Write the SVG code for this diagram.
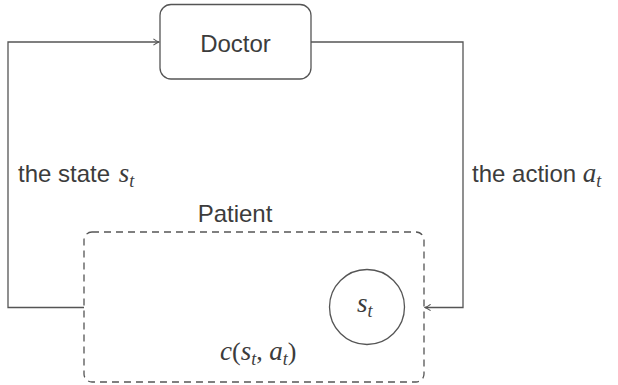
<svg xmlns="http://www.w3.org/2000/svg" width="618" height="385" viewBox="0 0 618 385">
  <style>
    .lbl { font-family: "Liberation Sans", Arial, sans-serif; font-size: 24px; fill: #3c3c3c; }
    .m { font-family: "Liberation Serif", "Times New Roman", serif; font-style: italic; font-size: 27px; }
    .r { font-family: "Liberation Serif", "Times New Roman", serif; font-style: normal; font-size: 26px; }
    .sub { font-size: 18px; }
    .edge { fill: none; stroke: #555; stroke-width: 1.3; }
  </style>
  <defs>
    <marker id="arr" viewBox="0 0 10 10" refX="9" refY="5" markerWidth="8" markerHeight="8" markerUnits="userSpaceOnUse" orient="auto">
      <path d="M2,1 Q6,4 9,5 Q6,6 2,9" fill="none" stroke="#555" stroke-width="1.3"/>
    </marker>
  </defs>
  <rect width="618" height="385" fill="#fff"/>

  <g id="connectors">
    <path class="edge" d="M84,307.5 H8 V42 H159" marker-end="url(#arr)"/>
    <path class="edge" d="M311,42 H463 V307.5 H425" marker-end="url(#arr)"/>
  </g>

  <g id="doctor">
    <rect x="160" y="4.5" width="151" height="74.5" rx="11" fill="#fff" stroke="#555" stroke-width="1.3"/>
    <text class="lbl" x="235.5" y="52" text-anchor="middle" font-size="25">Doctor</text>
  </g>

  <g id="patient">
    <rect x="84" y="232" width="340" height="150" rx="8" fill="none" stroke="#555" stroke-width="1.3" stroke-dasharray="7,5"/>
    <text class="lbl" x="235" y="222" text-anchor="middle" font-size="25">Patient</text>
    <text class="lbl" x="220" y="360"><tspan class="m">c</tspan><tspan class="r">(</tspan><tspan class="m">s</tspan><tspan class="m sub" dy="5">t</tspan><tspan class="r" dy="-5">, </tspan><tspan class="m">a</tspan><tspan class="m sub" dy="5">t</tspan><tspan class="r" dy="-5">)</tspan></text>
  </g>

  <g id="state">
    <circle cx="367" cy="307" r="37.5" fill="none" stroke="#555" stroke-width="1.3"/>
    <text class="lbl" x="357" y="312"><tspan class="m">s</tspan><tspan class="m sub" dy="5">t</tspan></text>
  </g>

  <g id="labels">
    <text class="lbl" x="18" y="182">the state <tspan class="m" dx="2">s</tspan><tspan class="m sub" dy="5">t</tspan></text>
    <text class="lbl" x="472" y="182">the action <tspan class="m">a</tspan><tspan class="m sub" dy="5">t</tspan></text>
  </g>
</svg>
